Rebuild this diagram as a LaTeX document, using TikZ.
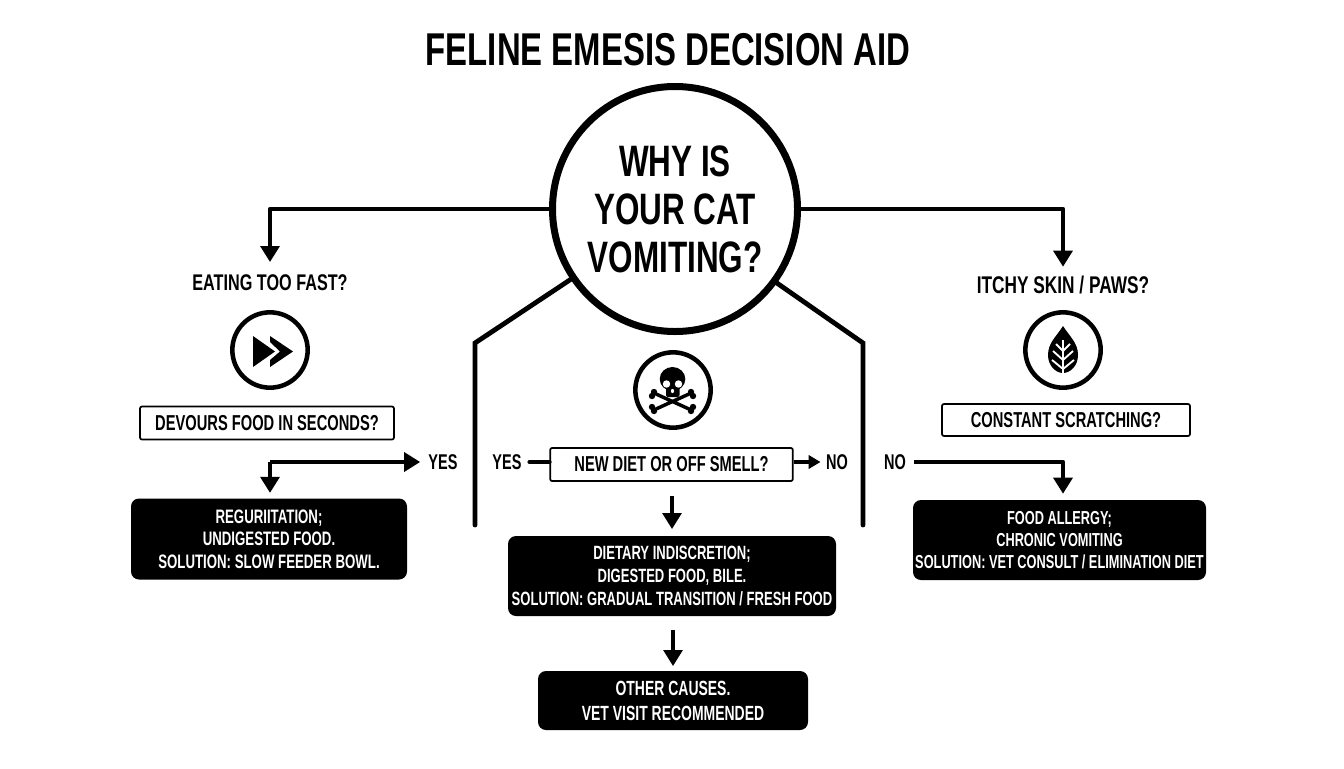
\documentclass[tikz,border=0pt]{standalone}
\usepackage{fontspec}
\setmainfont[FakeStretch=.68]{Liberation Sans}
\newfontfamily\widerfont[FakeStretch=.715]{Liberation Sans}
\usetikzlibrary{positioning,arrows.meta}

\begin{document}
\begin{tikzpicture}[x=.75pt,y=-.75pt,
    every node/.style = { align = center, inner sep = 0pt, font = \bfseries },
    heading/.style = { font = \widerfont\fontsize{34.5}{40}\selectfont\bfseries },
    bigq/.style = { draw, shape = circle, line width = 5.25pt, minimum size = 183.75pt, font = \widerfont\fontsize{33}{36}\selectfont\bfseries },
    iconring/.style = { draw, shape = circle, line width = 3.4pt, minimum size = 56.5pt },
    label/.style = { font = \widerfont\fontsize{17}{20}\selectfont\bfseries, minimum height = 21pt },
    yesno/.style = { font = \fontsize{16}{18}\selectfont\bfseries },
    askbox/.style = { draw, line width = 1.3pt, rounded corners = 1.5pt, font = \fontsize{16.2}{18}\selectfont\bfseries },
    result/.style = { fill = black, text = white, rounded corners = 6pt, font = \fontsize{14.6}{16.9}\selectfont\bfseries },
    conn/.style = { line width = 3.6pt, line join = round, -{Triangle[length = 12pt, width = 14pt]} },
    plainconn/.style = { line width = 3.6pt, line cap = round, line join = miter }
  ]
  \useasboundingbox (0,0) rectangle (1344,768);

  \node [heading] (title) at (668,50) {FELINE EMESIS DECISION AID};
  \node [bigq] (why) at (675,209) {WHY IS\\YOUR CAT\\VOMITING?};

  % left column
  \node [label] (fast) at (270,283) {EATING TOO FAST?};
  \node [iconring] (fasticon) at (270,350) {};
  \node [askbox, minimum width = 190.5pt, minimum height = 24.75pt] (devours) at (267,423) {DEVOURS FOOD IN SECONDS?};
  \node [yesno] (yesleft) at (443,462) {YES};
  \node [result, minimum width = 207pt, minimum height = 60.75pt] (regurg) at (269,539)
    {REGURIITATION;\\UNDIGESTED FOOD.\\SOLUTION: SLOW FEEDER BOWL.};

  % middle column
  \node [iconring] (skullicon) at (673,390) {};
  \node [askbox, minimum width = 182pt, minimum height = 24.75pt] (smell) at (671.5,464.5) {NEW DIET OR OFF SMELL?};
  \node [yesno] (yesmid) at (507,462) {YES};
  \node [yesno] (nomid) at (837,462) {NO};
  \node [result, minimum width = 246pt, minimum height = 60pt, font = \fontsize{14.4}{17.4}\selectfont\bfseries] (dietary) at (672,576)
    {DIETARY INDISCRETION;\\DIGESTED FOOD, BILE.\\SOLUTION: GRADUAL TRANSITION / FRESH FOOD};
  \node [result, minimum width = 202.5pt, minimum height = 44.25pt, font = \fontsize{15.4}{18.75}\selectfont\bfseries] (other) at (673,700.5)
    {OTHER CAUSES.\\VET VISIT RECOMMENDED};

  % right column
  \node [label, font = \widerfont\fontsize{18.1}{20}\selectfont\bfseries] (itchy) at (1063,285) {ITCHY SKIN / PAWS?};
  \node [iconring] (leaficon) at (1063,350) {};
  \node [askbox, minimum width = 186pt, minimum height = 24pt] (scratch) at (1066,420) {CONSTANT SCRATCHING?};
  \node [yesno] (noright) at (895,462) {NO};
  \node [result, minimum width = 219.75pt, minimum height = 60pt, font = \fontsize{14.1}{16.6}\selectfont\bfseries] (allergy) at (1059.5,540)
    {FOOD ALLERGY;\\CHRONIC VOMITING\\SOLUTION: VET CONSULT / ELIMINATION DIET};

  % connectors
  \draw [conn, shorten > = 5pt] (why.west) -| (fast.north);
  \draw [conn, shorten > = 3pt] (why.east) -| (itchy.north);

  \coordinate (cornerl) at (270,462);
  \draw [conn] (cornerl) -- ([xshift = -6pt]yesleft.west);
  \draw [conn] (cornerl) -- ([yshift = 4pt]regurg.north -| cornerl);

  \draw [plainconn] ([xshift = 6pt]yesmid.east) -- (smell.west |- yesmid);
  \draw [conn, -{Triangle[length = 9pt, width = 10pt]}] (smell.east |- nomid) -- ([xshift = -4pt]nomid.west);
  \coordinate (dietin) at (dietary.north);
  \draw [conn, line width = 2.8pt, shorten < = 10.5pt, shorten > = 5pt] (smell.south -| dietin) -- (dietin);
  \draw [conn, line width = 2.8pt, shorten < = 10.5pt, shorten > = 3.5pt] (dietary.south -| other.north) -- (other.north);

  \coordinate (cornerr) at (1063,462);
  \draw [conn] ([xshift = 6pt]noright.east) -- (cornerr) -- ([yshift = 4.5pt]allergy.north -| cornerr);

  % the two side rails
  \coordinate (railltop) at (475,343);
  \coordinate (raillend) at (475,525);
  \coordinate (railrtop) at (863,343);
  \coordinate (railrend) at (863,525);
  \draw [plainconn] (why.214) -- (railltop) -- (raillend);
  \draw [plainconn] (why.-36) -- (railrtop) -- (railrend);

  % fast forward icon
  \fill (253,336) -- (275,351.5) -- (253,367) -- cycle;
  \fill (270,336) -- (293,351.5) -- (270,367) -- (270,360) -- (280,351.5) -- (270,342) -- cycle;

  % skull icon
  \draw [line width = 2.6pt, line cap = round] (656,394) -- (689,409) (689,394) -- (656,409);
  \foreach \bx/\by in {654/392, 652/396, 691/392, 693/396, 654/411, 652/407, 691/411, 693/407}
    \fill (\bx,\by) circle (2.4pt);
  \fill (672.5,379) ellipse (9.6pt and 9pt);
  \fill [rounded corners = 1.5pt] (666,385) rectangle (679.5,397);
  \fill [white] (666.5,384) circle (2.8pt) (678.5,384) circle (2.8pt);
  \fill [white] (672.5,391) ellipse (1.2pt and 1.6pt);

  % leaf icon
  \fill (1063,326) .. controls (1070,337) and (1078,343) .. (1078,355)
    .. controls (1078,366) and (1070,373) .. (1063,373)
    .. controls (1056,373) and (1048,366) .. (1048,355)
    .. controls (1048,343) and (1056,337) .. (1063,326) -- cycle;
  \draw [white, line width = 1.4pt]
    (1063,340) -- (1063,374)
    (1063,351) -- (1056,344) (1063,351) -- (1070,344)
    (1063,360) -- (1053,351) (1063,360) -- (1073,351)
    (1063,369) -- (1052,360) (1063,369) -- (1074,360);
\end{tikzpicture}
\end{document}
